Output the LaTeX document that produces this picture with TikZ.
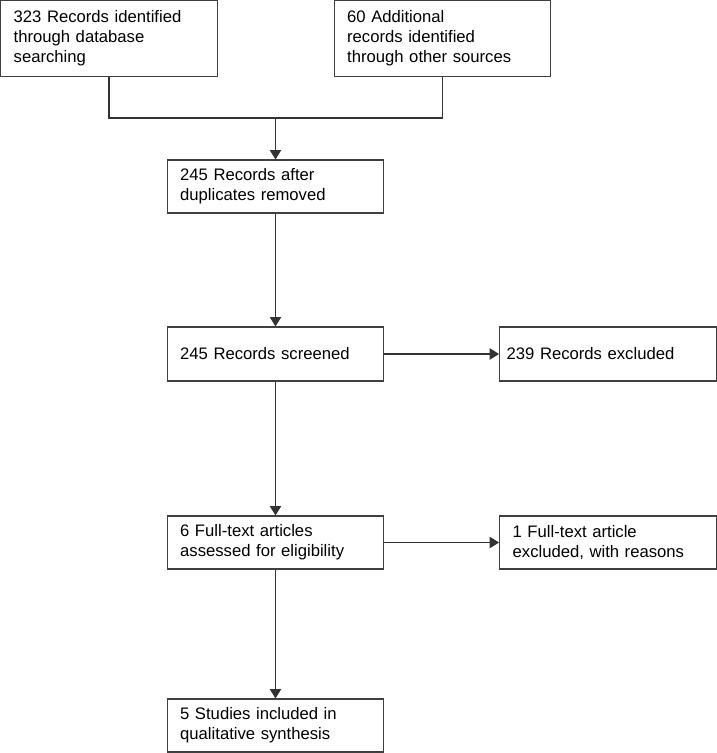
\documentclass[tikz,border=0pt]{standalone}
\usepackage{fontspec}
\setmainfont{Liberation Sans}
\usetikzlibrary{arrows.meta}

\tikzset{
    stage/.style={draw=black!75, line width=0.9pt, rectangle, align=left,
        text width=143pt, inner xsep=9.75pt, inner ysep=0pt,
        font=\fontsize{12.5}{15}\selectfont},
    link/.style={draw=black!80, line width=0.85pt},
    flow/.style={link, -{Triangle[width=8.5pt, length=7pt]}}
}

\begin{document}
\begin{tikzpicture}[x=0.75pt, y=-0.75pt]
    \useasboundingbox (0,0) rectangle (717,753);
    \node[stage, minimum height=57pt] (dbrec) at (109,38.5) {323 Records identified\\through database\\searching};
    \node[stage, minimum height=57pt] (otherrec) at (442.5,38.5) {60 Additional\\records identified\\through other sources};
    \coordinate (merge) at (275.5,118);
    \node[stage, minimum height=39.75pt] (dedup) at (275.5,186.5) {245 Records after\\duplicates removed};
    \node[stage, minimum height=40.5pt] (screen) at (275.5,354) {245 Records screened};
    \node[stage, minimum height=40.5pt, inner xsep=5.25pt, text width=152pt] (screenex) at (608,354) {239 Records excluded};
    \node[stage, minimum height=39.75pt] (fulltext) at (275.5,542.5) {6 Full-text articles\\assessed for eligibility};
    \node[stage, minimum height=39.75pt] (fullex) at (608,542.5) {1 Full-text article\\excluded, with reasons};
    \node[stage, minimum height=39.75pt] (included) at (275.5,725.5) {5 Studies included in\\qualitative synthesis};

    \draw[link] (dbrec.south) |- (merge) -| (otherrec.south);
    \draw[flow] (merge) -- (dedup.north);
    \draw[flow] (dedup) -- (screen);
    \draw[flow] (screen) -- (screenex);
    \draw[flow] (screen) -- (fulltext);
    \draw[flow] (fulltext) -- (fullex);
    \draw[flow] (fulltext) -- (included);
\end{tikzpicture}
\end{document}
